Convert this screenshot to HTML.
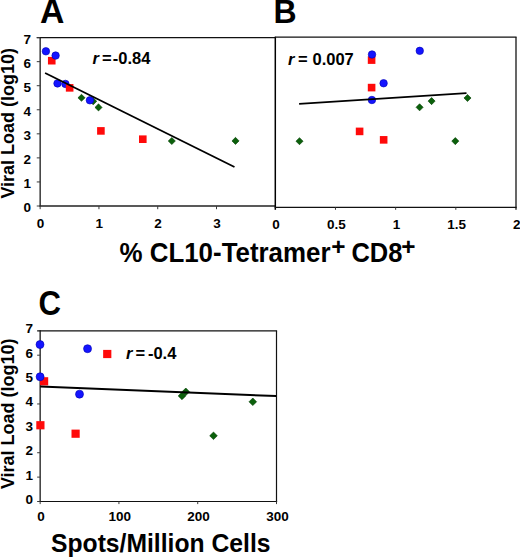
<!DOCTYPE html><html><head><meta charset="utf-8"><style>html,body{margin:0;padding:0;background:#fff;}svg{display:block;}</style></head><body>
<svg width="520" height="557" viewBox="0 0 520 557" font-family='"Liberation Sans", sans-serif' font-weight="bold" fill="#000">
<rect width="520" height="557" fill="#fff"/>
<text font-size="32" transform="translate(39.96,22.5) scale(1.055,1.07)">A</text>
<text font-size="32" transform="translate(273.6,22.6) scale(1.0,1.05)">B</text>
<text font-size="32" transform="translate(38.6,314.55) scale(0.975,1.08)">C</text>
<line x1="36.75" y1="37.60" x2="275.30" y2="37.60" stroke="#111" stroke-width="1.25"/>
<line x1="40.15" y1="37.00" x2="40.15" y2="206.60" stroke="#111" stroke-width="1.25"/>
<line x1="39.55" y1="206.00" x2="275.30" y2="206.00" stroke="#222" stroke-width="1.5"/>
<line x1="36.75" y1="181.94" x2="40.15" y2="181.94" stroke="#3a3a3a" stroke-width="1.0"/>
<text x="31.00" y="188.24" font-size="13.5" text-anchor="end">1</text>
<line x1="36.75" y1="157.89" x2="40.15" y2="157.89" stroke="#3a3a3a" stroke-width="1.0"/>
<text x="31.00" y="164.19" font-size="13.5" text-anchor="end">2</text>
<line x1="36.75" y1="133.83" x2="40.15" y2="133.83" stroke="#3a3a3a" stroke-width="1.0"/>
<text x="31.00" y="140.13" font-size="13.5" text-anchor="end">3</text>
<line x1="36.75" y1="109.77" x2="40.15" y2="109.77" stroke="#3a3a3a" stroke-width="1.0"/>
<text x="31.00" y="116.07" font-size="13.5" text-anchor="end">4</text>
<line x1="36.75" y1="85.71" x2="40.15" y2="85.71" stroke="#3a3a3a" stroke-width="1.0"/>
<text x="31.00" y="92.01" font-size="13.5" text-anchor="end">5</text>
<line x1="36.75" y1="61.66" x2="40.15" y2="61.66" stroke="#3a3a3a" stroke-width="1.0"/>
<text x="31.00" y="67.96" font-size="13.5" text-anchor="end">6</text>
<line x1="36.75" y1="37.60" x2="40.15" y2="37.60" stroke="#3a3a3a" stroke-width="1.0"/>
<text x="31.00" y="43.90" font-size="13.5" text-anchor="end">7</text>
<text x="31.00" y="212.30" font-size="13.5" text-anchor="end">0</text>
<line x1="36.75" y1="206.00" x2="40.15" y2="206.00" stroke="#3a3a3a" stroke-width="1.0"/>
<line x1="40.15" y1="206.00" x2="40.15" y2="209.20" stroke="#3a3a3a" stroke-width="1.0"/>
<text x="40.55" y="228.20" font-size="13.5" text-anchor="middle">0</text>
<line x1="98.94" y1="206.00" x2="98.94" y2="209.20" stroke="#3a3a3a" stroke-width="1.0"/>
<text x="99.34" y="228.20" font-size="13.5" text-anchor="middle">1</text>
<line x1="157.72" y1="206.00" x2="157.72" y2="209.20" stroke="#3a3a3a" stroke-width="1.0"/>
<text x="158.12" y="228.20" font-size="13.5" text-anchor="middle">2</text>
<line x1="216.51" y1="206.00" x2="216.51" y2="209.20" stroke="#3a3a3a" stroke-width="1.0"/>
<text x="216.91" y="228.20" font-size="13.5" text-anchor="middle">3</text>
<line x1="275.30" y1="36.65" x2="275.30" y2="209.80" stroke="#000" stroke-width="1.5"/>
<line x1="275.30" y1="37.15" x2="516.60" y2="37.15" stroke="#111" stroke-width="1.2"/>
<line x1="516.00" y1="37.15" x2="516.00" y2="209.80" stroke="#000" stroke-width="1.2"/>
<line x1="274.70" y1="207.40" x2="516.60" y2="207.40" stroke="#111" stroke-width="1.2"/>
<line x1="335.48" y1="207.40" x2="335.48" y2="209.80" stroke="#3a3a3a" stroke-width="1.0"/>
<line x1="395.65" y1="207.40" x2="395.65" y2="209.80" stroke="#3a3a3a" stroke-width="1.0"/>
<line x1="455.82" y1="207.40" x2="455.82" y2="209.80" stroke="#3a3a3a" stroke-width="1.0"/>
<text x="276.10" y="228.60" font-size="13.5" text-anchor="middle">0</text>
<text x="336.28" y="228.60" font-size="13.5" text-anchor="middle">0.5</text>
<text x="396.45" y="228.60" font-size="13.5" text-anchor="middle">1</text>
<text x="456.62" y="228.60" font-size="13.5" text-anchor="middle">1.5</text>
<text x="516.80" y="228.60" font-size="13.5" text-anchor="middle">2</text>
<line x1="40.15" y1="330.20" x2="40.15" y2="502.10" stroke="#111" stroke-width="1.25"/>
<line x1="37.15" y1="330.80" x2="277.10" y2="330.80" stroke="#111" stroke-width="1.3"/>
<line x1="276.50" y1="330.80" x2="276.50" y2="502.10" stroke="#111" stroke-width="1.2"/>
<line x1="39.55" y1="501.50" x2="277.10" y2="501.50" stroke="#111" stroke-width="1.2"/>
<line x1="37.15" y1="501.50" x2="40.15" y2="501.50" stroke="#3a3a3a" stroke-width="1.0"/>
<text x="32.90" y="504.00" font-size="13.5" text-anchor="end">0</text>
<line x1="37.15" y1="477.11" x2="40.15" y2="477.11" stroke="#3a3a3a" stroke-width="1.0"/>
<text x="32.90" y="479.61" font-size="13.5" text-anchor="end">1</text>
<line x1="37.15" y1="452.73" x2="40.15" y2="452.73" stroke="#3a3a3a" stroke-width="1.0"/>
<text x="32.90" y="455.23" font-size="13.5" text-anchor="end">2</text>
<line x1="37.15" y1="428.34" x2="40.15" y2="428.34" stroke="#3a3a3a" stroke-width="1.0"/>
<text x="32.90" y="430.84" font-size="13.5" text-anchor="end">3</text>
<line x1="37.15" y1="403.96" x2="40.15" y2="403.96" stroke="#3a3a3a" stroke-width="1.0"/>
<text x="32.90" y="406.46" font-size="13.5" text-anchor="end">4</text>
<line x1="37.15" y1="379.57" x2="40.15" y2="379.57" stroke="#3a3a3a" stroke-width="1.0"/>
<text x="32.90" y="382.07" font-size="13.5" text-anchor="end">5</text>
<line x1="37.15" y1="355.19" x2="40.15" y2="355.19" stroke="#3a3a3a" stroke-width="1.0"/>
<text x="32.90" y="357.69" font-size="13.5" text-anchor="end">6</text>
<text x="32.90" y="333.30" font-size="13.5" text-anchor="end">7</text>
<line x1="40.15" y1="501.50" x2="40.15" y2="504.10" stroke="#3a3a3a" stroke-width="1.0"/>
<text x="41.05" y="520.70" font-size="13.5" text-anchor="middle">0</text>
<line x1="118.93" y1="501.50" x2="118.93" y2="504.10" stroke="#3a3a3a" stroke-width="1.0"/>
<text x="119.83" y="520.70" font-size="13.5" text-anchor="middle">100</text>
<line x1="197.72" y1="501.50" x2="197.72" y2="504.10" stroke="#3a3a3a" stroke-width="1.0"/>
<text x="198.62" y="520.70" font-size="13.5" text-anchor="middle">200</text>
<line x1="276.50" y1="501.50" x2="276.50" y2="504.10" stroke="#3a3a3a" stroke-width="1.0"/>
<text x="277.40" y="520.70" font-size="13.5" text-anchor="middle">300</text>
<rect x="47.95" y="56.90" width="7.6" height="7.6" fill="#ff0a0a"/>
<path d="M81.50 94.25L85.05 97.80L81.50 101.35L77.95 97.80Z" fill="#0b600b" stroke="#003c00" stroke-width="0.6"/>
<path d="M93.20 97.75L96.75 101.30L93.20 104.85L89.65 101.30Z" fill="#0b600b" stroke="#003c00" stroke-width="0.6"/>
<path d="M98.50 103.85L102.05 107.40L98.50 110.95L94.95 107.40Z" fill="#0b600b" stroke="#003c00" stroke-width="0.6"/>
<path d="M171.80 137.45L175.35 141.00L171.80 144.55L168.25 141.00Z" fill="#0b600b" stroke="#003c00" stroke-width="0.6"/>
<path d="M235.50 137.35L239.05 140.90L235.50 144.45L231.95 140.90Z" fill="#0b600b" stroke="#003c00" stroke-width="0.6"/>
<circle cx="45.9" cy="51.3" r="3.75" fill="#1414ff" stroke="#0000b4" stroke-width="0.6"/>
<circle cx="55.6" cy="55.55" r="3.75" fill="#1414ff" stroke="#0000b4" stroke-width="0.6"/>
<circle cx="57.5" cy="83.4" r="3.75" fill="#1414ff" stroke="#0000b4" stroke-width="0.6"/>
<circle cx="65.4" cy="83.9" r="3.75" fill="#1414ff" stroke="#0000b4" stroke-width="0.6"/>
<circle cx="89.9" cy="100.3" r="3.75" fill="#1414ff" stroke="#0000b4" stroke-width="0.6"/>
<rect x="65.85" y="84.05" width="7.6" height="7.6" fill="#ff0a0a"/>
<rect x="97.10" y="127.10" width="7.6" height="7.6" fill="#ff0a0a"/>
<rect x="139.00" y="135.40" width="7.6" height="7.6" fill="#ff0a0a"/>
<line x1="45.10" y1="73.00" x2="234.50" y2="167.00" stroke="#000" stroke-width="1.8"/>
<rect x="367.80" y="56.30" width="7.6" height="7.6" fill="#ff0a0a"/>
<path d="M299.50 137.65L303.05 141.20L299.50 144.75L295.95 141.20Z" fill="#0b600b" stroke="#003c00" stroke-width="0.6"/>
<path d="M419.60 103.75L423.15 107.30L419.60 110.85L416.05 107.30Z" fill="#0b600b" stroke="#003c00" stroke-width="0.6"/>
<path d="M431.60 97.55L435.15 101.10L431.60 104.65L428.05 101.10Z" fill="#0b600b" stroke="#003c00" stroke-width="0.6"/>
<path d="M467.50 94.45L471.05 98.00L467.50 101.55L463.95 98.00Z" fill="#0b600b" stroke="#003c00" stroke-width="0.6"/>
<path d="M455.30 137.55L458.85 141.10L455.30 144.65L451.75 141.10Z" fill="#0b600b" stroke="#003c00" stroke-width="0.6"/>
<circle cx="372" cy="54.5" r="3.75" fill="#1414ff" stroke="#0000b4" stroke-width="0.6"/>
<circle cx="419.75" cy="50.85" r="3.75" fill="#1414ff" stroke="#0000b4" stroke-width="0.6"/>
<circle cx="383.6" cy="83.25" r="3.75" fill="#1414ff" stroke="#0000b4" stroke-width="0.6"/>
<circle cx="371.9" cy="100" r="3.75" fill="#1414ff" stroke="#0000b4" stroke-width="0.6"/>
<rect x="367.80" y="83.80" width="7.6" height="7.6" fill="#ff0a0a"/>
<rect x="355.80" y="127.60" width="7.6" height="7.6" fill="#ff0a0a"/>
<rect x="379.85" y="136.05" width="7.6" height="7.6" fill="#ff0a0a"/>
<line x1="299.10" y1="103.85" x2="466.50" y2="93.10" stroke="#000" stroke-width="1.7"/>
<rect x="40.00" y="377.20" width="8.2" height="8.2" fill="#ff0a0a"/>
<path d="M182.00 392.10L185.80 395.90L182.00 399.70L178.20 395.90Z" fill="#0b600b" stroke="#003c00" stroke-width="0.6"/>
<path d="M185.80 388.00L189.60 391.80L185.80 395.60L182.00 391.80Z" fill="#0b600b" stroke="#003c00" stroke-width="0.6"/>
<path d="M213.50 432.00L217.30 435.80L213.50 439.60L209.70 435.80Z" fill="#0b600b" stroke="#003c00" stroke-width="0.6"/>
<path d="M252.80 398.00L256.60 401.80L252.80 405.60L249.00 401.80Z" fill="#0b600b" stroke="#003c00" stroke-width="0.6"/>
<circle cx="40.0" cy="344.55" r="4.0" fill="#1414ff" stroke="#0000b4" stroke-width="0.6"/>
<circle cx="87.55" cy="348.7" r="4.0" fill="#1414ff" stroke="#0000b4" stroke-width="0.6"/>
<circle cx="40.1" cy="376.75" r="4.0" fill="#1414ff" stroke="#0000b4" stroke-width="0.6"/>
<circle cx="79.5" cy="394.15" r="4.0" fill="#1414ff" stroke="#0000b4" stroke-width="0.6"/>
<rect x="103.15" y="349.90" width="8.2" height="8.2" fill="#ff0a0a"/>
<rect x="36.30" y="421.15" width="8.2" height="8.2" fill="#ff0a0a"/>
<rect x="71.50" y="429.60" width="8.2" height="8.2" fill="#ff0a0a"/>
<line x1="40.20" y1="386.40" x2="276.20" y2="396.10" stroke="#000" stroke-width="2.0"/>
<text x="92.60" y="64.10" font-size="16.5" text-anchor="start" font-style="italic">r</text>
<text x="101.90" y="64.10" font-size="16.5" text-anchor="start">=</text>
<text x="112.80" y="64.10" font-size="16.5" text-anchor="start">-0.84</text>
<text x="287.90" y="64.60" font-size="16.5" text-anchor="start" font-style="italic">r</text>
<text x="298.10" y="64.60" font-size="16.5" text-anchor="start">=</text>
<text x="312.50" y="64.60" font-size="16.5" text-anchor="start">0.007</text>
<text x="126.00" y="358.80" font-size="16.5" text-anchor="start" font-style="italic">r</text>
<text x="135.60" y="358.80" font-size="16.5" text-anchor="start">=</text>
<text x="147.90" y="358.80" font-size="16.5" text-anchor="start">-0.4</text>
<text x="0" y="0" font-size="18" transform="translate(13.9,198.6) rotate(-90) scale(1,1.06)">Viral Load (log10)</text>
<text x="0" y="0" font-size="18" transform="translate(14.4,489.1) rotate(-90) scale(1,1.06)">Viral Load (log10)</text>
<text x="119.5" y="261.8" font-size="26.8" textLength="211" lengthAdjust="spacingAndGlyphs">% CL10-Tetramer</text>
<text x="331.3" y="254.8" font-size="24.4">+</text>
<text x="351.4" y="261.8" font-size="26.8" textLength="51" lengthAdjust="spacingAndGlyphs">CD8</text>
<text x="401.2" y="254.8" font-size="24.4">+</text>
<text x="51.0" y="551.8" font-size="26.2" textLength="219.5" lengthAdjust="spacingAndGlyphs">Spots/Million Cells</text>
</svg></body></html>
